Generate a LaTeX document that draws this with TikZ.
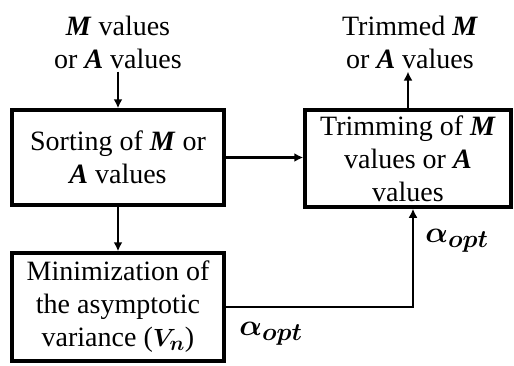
\documentclass[tikz,border=0pt]{standalone}
\usepackage{amsmath}
\usepackage{bm}
\usepackage{graphicx}
\usepackage{fontspec}
\setmainfont{Liberation Serif}
\usepackage{tikz}
\usetikzlibrary{positioning,arrows.meta}

\newcommand{\bM}{\textbf{\textit{M}}}
\newcommand{\bA}{\textbf{\textit{A}}}
\newcommand{\aopt}{\scalebox{1.2}{$\bm{\alpha_{opt}}$}}

\begin{document}
\begin{tikzpicture}[x=1pt,y=1pt,
  every node/.style={font=\fontsize{28}{33}\selectfont,align=center,inner sep=0pt},
  block/.style={draw,line width=3.5pt,minimum width=212pt},
  link/.style={line width=2.5pt,-{Latex[length=9pt,width=9pt]}}]
\useasboundingbox (0,0) rectangle (514,365);
% blocks
\node[block,minimum height=95pt] (sort) at (118,207.5) {Sorting of \bM{} or\\\bA{} values};
\node[block,minimum height=108pt] (mini) at (118,58) {Minimization of\\the asymptotic\\variance ($\bm{V_n}$)};
\node[block,minimum width=206pt,minimum height=97pt] (trim) at (408,206.5) {Trimming of \bM\\values or \bA\\values};
% input and output
\node (in) at (118,323) {\bM{} values\\or \bA{} values};
\node (out) at (410,323) {Trimmed \bM\\or \bA{} values};
% connectors
\draw[link] ([yshift=-3pt]in.south) -- (sort.north);
\draw[link] (sort.east) -- (sort.east -| trim.west);
\draw[link] (sort.south) -- (mini.north);
\draw[link] (trim.north) -- ([yshift=-3pt]out.south -| trim.north);
\draw[link] (mini.east) -| ([xshift=5pt]trim.south);
\node (a1) at (271,31) {\aopt};
\node (a2) at (457,124) {\aopt};
\end{tikzpicture}
\end{document}
